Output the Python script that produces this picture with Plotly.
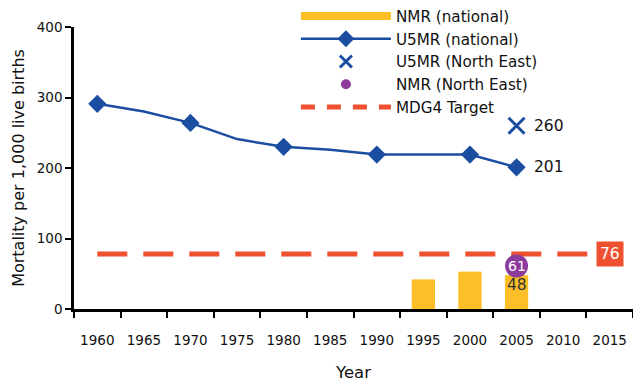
import plotly.graph_objects as go

years = ["1960", "1965", "1970", "1975", "1980", "1985", "1990", "1995", "2000", "2005", "2010", "2015"]

# U5MR national (line), markers shown only at survey points
u5mr_years = ["1960", "1965", "1970", "1975", "1980", "1985", "1990", "1995", "2000", "2005"]
u5mr_values = [291, 280, 264, 241, 230, 226, 219, 219, 219, 201]
u5mr_marker_sizes = [14, 0, 14, 0, 14, 0, 14, 0, 14, 14]

# NMR national (bars)
nmr_years = ["1995", "2000", "2005"]
nmr_values = [42, 53, 48]

# North East points
ne_year = ["2005"]
u5mr_ne = [260]
nmr_ne = [61]

# MDG4 target
mdg4_line_value = 78
mdg4_label = "76"

BLUE = "#1b4ea1"
YELLOW = "#fdbf27"
RED = "#ef5130"
PURPLE = "#8c3b9b"
FONT = "DejaVu Sans"


def idx(year):
    return years.index(year)


fig = go.Figure()

# MDG4 target dashed line
fig.add_trace(go.Scatter(
    x=years, y=[mdg4_line_value] * len(years), mode="lines",
    line=dict(color=RED, width=5, dash="30px,16px"),
    showlegend=False, hoverinfo="skip"))

# NMR bars
fig.add_trace(go.Bar(
    x=nmr_years, y=nmr_values, marker=dict(color=YELLOW, line=dict(width=0)),
    width=0.5, showlegend=False))

# U5MR national line
fig.add_trace(go.Scatter(
    x=u5mr_years, y=u5mr_values, mode="lines+markers",
    line=dict(color=BLUE, width=2.5),
    marker=dict(symbol="diamond", size=u5mr_marker_sizes, color=BLUE, opacity=1,
                line=dict(width=0)),
    opacity=1, showlegend=False))

# U5MR North East
fig.add_trace(go.Scatter(
    x=ne_year, y=u5mr_ne, mode="markers",
    marker=dict(symbol="x-thin", size=16, opacity=1, line=dict(color=BLUE, width=3)),
    showlegend=False))

# NMR North East
fig.add_trace(go.Scatter(
    x=ne_year, y=nmr_ne, mode="markers",
    marker=dict(symbol="circle", size=23, color=PURPLE, opacity=1, line=dict(width=0)),
    showlegend=False))

# Legend-only entries
fig.add_trace(go.Scatter(x=[None], y=[None], mode="lines", name="NMR (national)",
                         line=dict(color=YELLOW, width=8)))
fig.add_trace(go.Scatter(x=[None], y=[None], mode="lines+markers", name="U5MR (national)",
                         line=dict(color=BLUE, width=2.5),
                         marker=dict(symbol="diamond", size=13, color=BLUE)))
fig.add_trace(go.Scatter(x=[None], y=[None], mode="markers", name="U5MR (North East)",
                         marker=dict(symbol="x-thin", size=12, line=dict(color=BLUE, width=3))))
fig.add_trace(go.Scatter(x=[None], y=[None], mode="markers", name="NMR (North East)",
                         marker=dict(symbol="circle", size=10, color=PURPLE)))
fig.add_trace(go.Scatter(x=[None], y=[None], mode="lines", name="MDG4 Target",
                         line=dict(color=RED, width=5, dash="14px,12px")))

annotations = [
    dict(x=idx(ne_year[0]), y=u5mr_ne[0], text=str(u5mr_ne[0]), showarrow=False,
         xshift=32, font=dict(size=15.5, color="#111111", family=FONT)),
    dict(x=idx(u5mr_years[-1]), y=u5mr_values[-1], text=str(u5mr_values[-1]), showarrow=False,
         xshift=32, font=dict(size=15.5, color="#111111", family=FONT)),
    dict(x=idx(ne_year[0]), y=nmr_ne[0], text=str(nmr_ne[0]), showarrow=False,
         font=dict(size=14, color="white", family=FONT)),
    dict(x=idx(nmr_years[-1]), y=nmr_values[-1], text=str(nmr_values[-1]), showarrow=False,
         yshift=-10, font=dict(size=15.5, color="#333333", family=FONT)),
    dict(x=idx(years[-1]), y=mdg4_line_value, text=mdg4_label, showarrow=False,
         bgcolor=RED, borderpad=3, font=dict(size=15.5, color="white", family=FONT)),
]

# The page body adds an 8px offset, so the figure is sized/margined to compensate.
fig.update_layout(
    width=633, height=377,
    margin=dict(l=66, r=8, t=19, b=76, autoexpand=False),
    paper_bgcolor="white", plot_bgcolor="white",
    font=dict(family=FONT, size=13.5, color="#111111"),
    annotations=annotations,
    legend=dict(
        x=0.397, y=1.097, xref="paper", yref="paper", xanchor="left", yanchor="top",
        bgcolor="rgba(0,0,0,0)", font=dict(size=15.2, family=FONT, color="#111111"),
        itemwidth=90, tracegroupgap=0,
    ),
    xaxis=dict(
        type="category", categoryorder="array", categoryarray=years,
        tickvals=years, ticktext=years, range=[-0.5, len(years) - 0.5],
        showline=True, linecolor="black", linewidth=2.5,
        ticks="outside", tickson="boundaries", ticklen=6, tickwidth=2, tickcolor="black",
        ticklabelstandoff=17, showgrid=False, zeroline=False,
        tickfont=dict(size=13.5),
        title=dict(text="Year", font=dict(size=16.5, family=FONT), standoff=20),
    ),
    yaxis=dict(
        range=[0, 400], tickvals=[0, 100, 200, 300, 400],
        showline=True, linecolor="black", linewidth=2.5,
        ticks="outside", ticklen=6, tickwidth=2, tickcolor="black",
        showgrid=False, zeroline=False,
        tickfont=dict(size=13.5),
        title=dict(text="Mortality per 1,000 live births", font=dict(size=16, family=FONT), standoff=9),
    ),
)

fig.write_html("out.html")
